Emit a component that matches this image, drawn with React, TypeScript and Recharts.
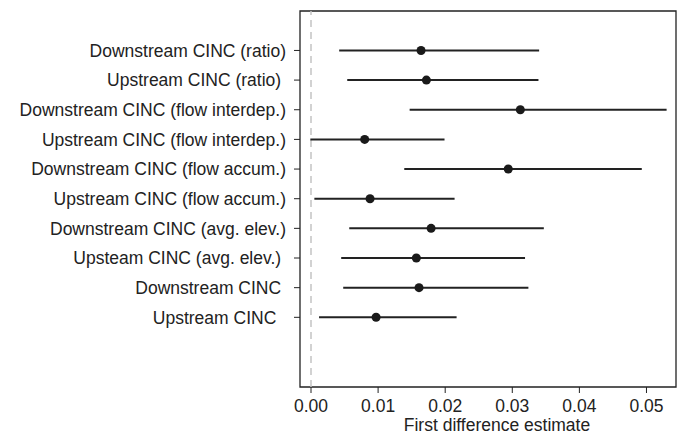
import React from "react";
import {
  ScatterChart,
  Scatter,
  XAxis,
  YAxis,
  ZAxis,
  ErrorBar,
  ReferenceLine,
  ReferenceArea,
  Label,
} from "recharts";

const NBSP = "\u00A0";

const labels = [
  "Downstream CINC (ratio)",
  "Upstream CINC (ratio)" + NBSP,
  "Downstream CINC (flow interdep.)",
  "Upstream CINC (flow interdep.)",
  "Downstream CINC (flow accum.)",
  "Upstream CINC (flow accum.)",
  "Downstream CINC (avg. elev.)",
  "Upsteam CINC (avg. elev.)" + NBSP,
  "Downstream CINC" + NBSP,
  "Upstream CINC" + NBSP + NBSP,
];

const estimates = [0.0164, 0.0172, 0.0312, 0.0080, 0.0294, 0.0088, 0.0179, 0.0157, 0.0161, 0.0097];
const lower = [0.0042, 0.0054, 0.0147, -0.0001, 0.0139, 0.0005, 0.0057, 0.0045, 0.0048, 0.0012];
const upper = [0.0340, 0.0339, 0.0530, 0.0199, 0.0493, 0.0214, 0.0347, 0.0319, 0.0324, 0.0217];

const xTicks = [0, 0.01, 0.02, 0.03, 0.04, 0.05];
const X_DOMAIN: [number, number] = [-0.00164, 0.0544];
const Y_DOMAIN: [number, number] = [-1.35, 11.33];

const n = labels.length;
const data = labels.map((label, i) => ({
  label,
  pos: n - i,
  est: estimates[i],
  err: [estimates[i] - lower[i], upper[i] - estimates[i]],
}));

const yTicks = data.map((d) => d.pos);
const labelByPos: Record<number, string> = {};
data.forEach((d) => {
  labelByPos[d.pos] = d.label;
});

const FONT = "'Liberation Sans', Arial, sans-serif";
const TEXT = "#222";

export default function App() {
  return (
    <div style={{ position: "absolute", left: 0, top: 0, background: "#fff" }}>
      <ScatterChart
        width={684}
        height={435}
        margin={{ top: 11, right: 8, bottom: 0, left: 0 }}
        style={{ fontFamily: FONT }}
      >
        <XAxis
          type="number"
          dataKey="est"
          domain={X_DOMAIN}
          ticks={xTicks}
          allowDataOverflow
          axisLine={false}
          tickLine={{ stroke: TEXT, strokeWidth: 1 }}
          tickSize={6}
          tickMargin={7}
          height={48}
          tick={{ fill: TEXT, fontSize: 17.5 }}
          tickFormatter={(v: number) => v.toFixed(2)}
        >
          <Label
            value="First difference estimate"
            position="insideBottom"
            offset={4}
            dx={9}
            style={{ fill: TEXT, fontSize: 17.5 }}
          />
        </XAxis>
        <YAxis
          type="number"
          dataKey="pos"
          domain={Y_DOMAIN}
          ticks={yTicks}
          allowDataOverflow
          axisLine={false}
          tickLine={{ stroke: TEXT, strokeWidth: 1 }}
          tickSize={6}
          tickMargin={8}
          width={300}
          interval={0}
          tick={{ fill: TEXT, fontSize: 17.5 }}
          tickFormatter={(v: number) => labelByPos[v] ?? ""}
        />
        <ZAxis range={[32, 32]} />
        <ReferenceLine x={0} stroke="#c4c4c4" strokeWidth={1.5} strokeDasharray="7 5" />
        <Scatter data={data} fill="#1a1a1a" isAnimationActive={false}>
          <ErrorBar
            dataKey="err"
            direction="x"
            width={0}
            stroke="#222"
            strokeWidth={2}
            isAnimationActive={false}
          />
        </Scatter>
        <ReferenceArea
          x1={X_DOMAIN[0]}
          x2={X_DOMAIN[1]}
          y1={Y_DOMAIN[0]}
          y2={Y_DOMAIN[1]}
          fill="none"
          fillOpacity={0}
          stroke="#222"
          strokeWidth={1.3}
        />
      </ScatterChart>
    </div>
  );
}
